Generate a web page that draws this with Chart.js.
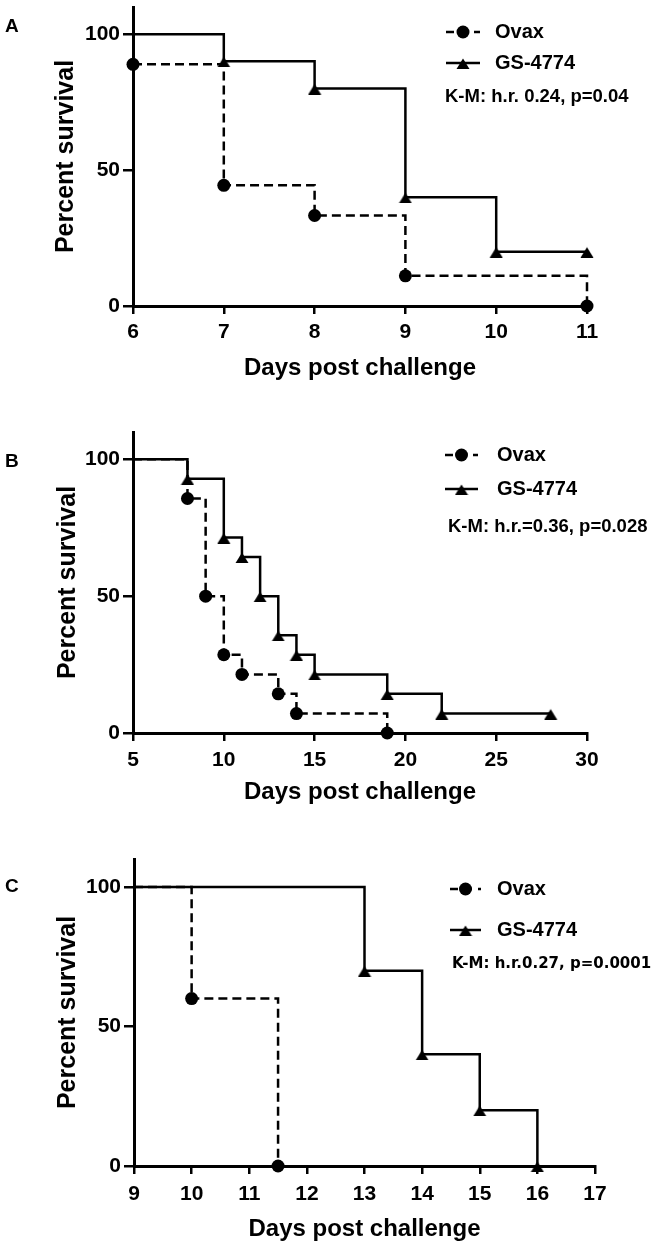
<!DOCTYPE html>
<html><head><meta charset="utf-8">
<script src="https://cdn.jsdelivr.net/npm/chart.js@4.4.1/dist/chart.umd.min.js"></script>
<style>
html,body{margin:0;padding:0;background:#fff;}
#wrap{position:relative;width:658px;height:1249px;background:#fff;}
canvas{position:absolute;left:0;}
</style></head><body>
<div id="wrap">
<canvas id="cA" width="658" height="400" style="top:0px"></canvas>
<canvas id="cB" width="658" height="420" style="top:400px"></canvas>
<canvas id="cC" width="658" height="429" style="top:820px"></canvas>
</div>
<script>
// ---------- data ----------
const seriesNames = ['Ovax', 'GS-4774'];
const yTitle = 'Percent survival';
const xTitle = 'Days post challenge';
const yTicks = [0, 50, 100];

// Panel A
const xTicksA = [6, 7, 8, 9, 10, 11];
const daysA_ovax = [6, 7, 8, 9, 11];
const survA_ovax = [88.9, 44.4, 33.3, 11.1, 0];
const daysA_gs = [6, 7, 8, 9, 10, 11];
const survA_gs = [100, 90, 80, 40, 20, 20];
const statA = 'K-M: h.r. 0.24, p=0.04';

// Panel B
const xTicksB = [5, 10, 15, 20, 25, 30];
const daysB_ovax = [5, 8, 9, 10, 11, 13, 14, 19];
const survB_ovax = [100, 85.7, 50, 28.6, 21.4, 14.3, 7.1, 0];
const daysB_gs = [5, 8, 10, 11, 12, 13, 14, 15, 19, 22, 28];
const survB_gs = [100, 92.9, 71.4, 64.3, 50, 35.7, 28.6, 21.4, 14.3, 7.1, 7.1];
const statB = 'K-M: h.r.=0.36, p=0.028';

// Panel C
const xTicksC = [9, 10, 11, 12, 13, 14, 15, 16, 17];
const daysC_ovax = [9, 10, 11.5];
const survC_ovax = [100, 60, 0];
const daysC_gs = [9, 13, 14, 15, 16];
const survC_gs = [100, 70, 40, 20, 0];
const statC = 'K-M: h.r.0.27, p=0.0001';

// ---------- drawing ----------
const FONT = '"Liberation Sans", Arial, Helvetica, sans-serif';
const pts = (xs, ys) => xs.map((x, i) => ({x: x, y: ys[i]}));

// triangle marker image (bounding box roughly centred on the line, like GraphPad)
const tri = document.createElement('canvas');
tri.width = 14; tri.height = 12;
(function () {
  const c = tri.getContext('2d');
  c.fillStyle = '#000';
  c.beginPath();
  c.moveTo(7, 1.5);
  c.lineTo(13.5, 12);
  c.lineTo(0.5, 12);
  c.closePath();
  c.fill();
})();

function annotPlugin(p) {
  return {
    id: 'annot',
    afterDraw(chart) {
      const ctx = chart.ctx;
      ctx.save();
      ctx.fillStyle = '#000';
      ctx.strokeStyle = '#000';
      // panel letter
      ctx.font = 'bold 19px ' + FONT;
      ctx.textAlign = 'left';
      ctx.textBaseline = 'alphabetic';
      ctx.fillText(p.letter, 5, p.letterY);
      // legend: Ovax
      const cx = (p.symX0 + p.symX1) / 2;
      ctx.lineWidth = 2.5;
      ctx.setLineDash([8, 6]);
      ctx.beginPath();
      ctx.moveTo(p.symX0, p.yOvax);
      ctx.lineTo(p.symX1, p.yOvax);
      ctx.stroke();
      ctx.setLineDash([]);
      ctx.beginPath();
      ctx.arc(cx, p.yOvax, 6.5, 0, Math.PI * 2);
      ctx.fill();
      // legend: GS
      ctx.beginPath();
      ctx.moveTo(p.symX0, p.yGs);
      ctx.lineTo(p.symX1, p.yGs);
      ctx.stroke();
      ctx.drawImage(tri, cx - tri.width / 2, p.yGs - tri.height / 2);
      // legend text
      ctx.textBaseline = 'middle';
      ctx.font = 'bold 20px ' + FONT;
      ctx.fillText(seriesNames[0], p.textX, p.yOvax);
      ctx.fillText(seriesNames[1], p.textX, p.yGs);
      ctx.font = p.kmFont;
      ctx.fillText(p.km, p.kmX, p.kmY);
      ctx.restore();
    }
  };
}

function makeChart(id, d, L) {
  const markR = (r) => (c) => (c.dataIndex === 0 && c.raw && c.raw.y === 100) ? 0 : r;
  return new Chart(document.getElementById(id), {
    type: 'line',
    data: {
      datasets: [
        {
          label: seriesNames[0],
          data: pts(d.xo, d.yo),
          stepped: true,
          borderColor: '#000',
          backgroundColor: '#000',
          borderWidth: 2.5,
          borderDash: [9, 5],
          pointStyle: 'circle',
          pointRadius: markR(6.5),
          pointBorderWidth: 0,
          pointBackgroundColor: '#000',
          fill: false,
          clip: false
        },
        {
          label: seriesNames[1],
          data: pts(d.xg, d.yg),
          stepped: true,
          borderColor: '#000',
          backgroundColor: '#000',
          borderWidth: 2.5,
          pointStyle: tri,
          pointRadius: markR(7),
          pointBorderWidth: 0,
          pointBackgroundColor: '#000',
          fill: false,
          clip: false
        }
      ]
    },
    options: {
      responsive: false,
      animation: false,
      devicePixelRatio: 1,
      layout: {padding: {top: L.padTop, right: L.padRight, left: 0, bottom: 0}},
      plugins: {legend: {display: false}, tooltip: {enabled: false}},
      scales: {
        x: {
          type: 'linear',
          min: d.xt[0],
          max: d.xt[d.xt.length - 1],
          afterBuildTicks: (s) => { s.ticks = d.xt.map(v => ({value: v})); },
          afterFit: (s) => { s.height = L.xHeight; s.paddingLeft = 0; s.paddingRight = 0; },
          grid: {display: true, drawOnChartArea: false, drawTicks: true, tickLength: 8, color: '#000', lineWidth: 2.5},
          border: {display: true, color: '#000', width: 3},
          ticks: {color: '#000', font: {family: FONT, size: 21, weight: 'bold'}, padding: L.xTickPad, maxRotation: 0, autoSkip: false},
          title: {display: true, text: xTitle, color: '#000', font: {family: FONT, size: 24, weight: 'bold'}, padding: L.xTitlePad}
        },
        y: {
          type: 'linear',
          min: 0,
          max: 110,
          afterBuildTicks: (s) => { s.ticks = yTicks.map(v => ({value: v})); },
          afterFit: (s) => { s.width = L.yWidth; s.paddingTop = 0; s.paddingBottom = 0; },
          grid: {display: true, drawOnChartArea: false, drawTicks: true, tickLength: 10, color: '#000', lineWidth: 2.5},
          border: {display: true, color: '#000', width: 3},
          ticks: {color: '#000', font: {family: FONT, size: 21, weight: 'bold'}, padding: 3},
          title: {display: true, text: yTitle, color: '#000', font: {family: FONT, size: 25, weight: 'bold'}, padding: L.yTitlePad}
        }
      }
    },
    plugins: [annotPlugin(L.ann)]
  });
}

makeChart('cA',
  {xo: daysA_ovax, yo: survA_ovax, xg: daysA_gs, yg: survA_gs, xt: xTicksA},
  {padTop: 5, padRight: 71, yWidth: 133, xHeight: 94, xTickPad: 6, xTitlePad: 17.6, yTitlePad: 51,
   ann: {letter: 'A', letterY: 32, symX0: 446, symX1: 480, textX: 495, yOvax: 32, yGs: 63,
         km: statA, kmX: 445, kmY: 97, kmFont: 'bold 18.5px ' + FONT}});

makeChart('cB',
  {xo: daysB_ovax, yo: survB_ovax, xg: daysB_gs, yg: survB_gs, xt: xTicksB},
  {padTop: 32, padRight: 71, yWidth: 133, xHeight: 87, xTickPad: 7, xTitlePad: 12.9, yTitlePad: 53,
   ann: {letter: 'B', letterY: 67, symX0: 445, symX1: 478, textX: 497, yOvax: 55, yGs: 89,
         km: statB, kmX: 448, kmY: 127, kmFont: 'bold 18.5px ' + FONT}});

makeChart('cC',
  {xo: daysC_ovax, yo: survC_ovax, xg: daysC_gs, yg: survC_gs, xt: xTicksC},
  {padTop: 39, padRight: 63, yWidth: 134, xHeight: 83, xTickPad: 7.5, xTitlePad: 5.3, yTitlePad: 53,
   ann: {letter: 'C', letterY: 72, symX0: 450, symX1: 481, textX: 497, yOvax: 69, yGs: 110,
         km: statC, kmX: 452, kmY: 144, kmFont: 'bold 15px "DejaVu Sans", Verdana, sans-serif'}});
</script>
</body></html>
